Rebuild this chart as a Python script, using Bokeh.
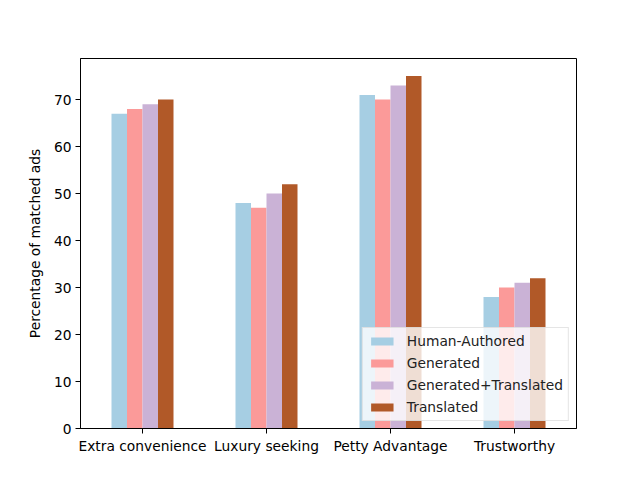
from bokeh.plotting import figure
from bokeh.models import ColumnDataSource, FixedTicker, Range1d, Legend, LegendItem
from bokeh.embed import file_html
from bokeh.resources import INLINE

categories = ["Extra convenience", "Luxury seeking", "Petty Advantage", "Trustworthy"]
series_names = ["Human-Authored", "Generated", "Generated+Translated", "Translated"]
human_authored = [67, 48, 71, 28]
generated = [68, 47, 70, 30]
generated_translated = [69, 50, 73, 31]
translated = [70, 52, 75, 32]
y_ticks = [0, 10, 20, 30, 40, 50, 60, 70]

colors = ["#a6cee3", "#fb9a99", "#cab2d6", "#b15928"]
series = [human_authored, generated, generated_translated, translated]

FONT = "DejaVu Sans"
FS = "13.8px"

p = figure(width=624, height=464, frame_width=496, frame_height=370,
           output_backend="svg", toolbar_location=None,
           x_range=Range1d(-0.5, len(categories) - 0.5),
           y_range=Range1d(0, 78.75),
           min_border_left=80, min_border_right=48, min_border_top=58, min_border_bottom=36)

p.background_fill_color = "white"
p.border_fill_color = "white"
p.outline_line_color = "black"
p.outline_line_width = 1
p.xgrid.visible = False
p.ygrid.visible = False

bw = 0.125
offsets = [-1.5 * bw, -0.5 * bw, 0.5 * bw, 1.5 * bw]
items = []
for name, vals, col, off in zip(series_names, series, colors, offsets):
    src = ColumnDataSource(dict(x=[i + off for i in range(len(categories))], top=vals))
    r = p.vbar(x="x", top="top", width=bw, bottom=0, source=src, fill_color=col, line_color=None)
    items.append(LegendItem(label=name, renderers=[r]))

p.xaxis.ticker = FixedTicker(ticks=list(range(len(categories))))
p.xaxis.major_label_overrides = {i: c for i, c in enumerate(categories)}
p.yaxis.ticker = FixedTicker(ticks=y_ticks)
p.yaxis.axis_label = "Percentage of matched ads"

for ax in (p.xaxis[0], p.yaxis[0]):
    ax.axis_line_color = "black"
    ax.major_tick_line_color = "black"
    ax.major_tick_out = 5
    ax.major_tick_in = 0
    ax.minor_tick_line_color = None
    ax.major_label_text_font = FONT
    ax.major_label_text_font_size = FS
    ax.major_label_text_color = "black"
    ax.major_label_standoff = 4
p.yaxis.axis_label_text_font = FONT
p.yaxis.axis_label_text_font_size = FS
p.yaxis.axis_label_text_font_style = "normal"
p.yaxis.axis_label_text_color = "black"
p.yaxis.axis_label_standoff = 8

legend = Legend(items=items, location="bottom_right")
legend.label_text_font = FONT
legend.label_text_font_size = FS
legend.label_text_color = "#222222"
legend.glyph_width = 28
legend.glyph_height = 10
legend.label_height = 15
legend.spacing = 6
legend.padding = 5
legend.margin = 7
legend.label_standoff = 11
legend.border_line_color = "#cccccc"
legend.border_line_width = 1
legend.background_fill_alpha = 0.8
legend.background_fill_color = "white"
p.add_layout(legend)

open("out.html", "w").write(file_html(p, INLINE))
